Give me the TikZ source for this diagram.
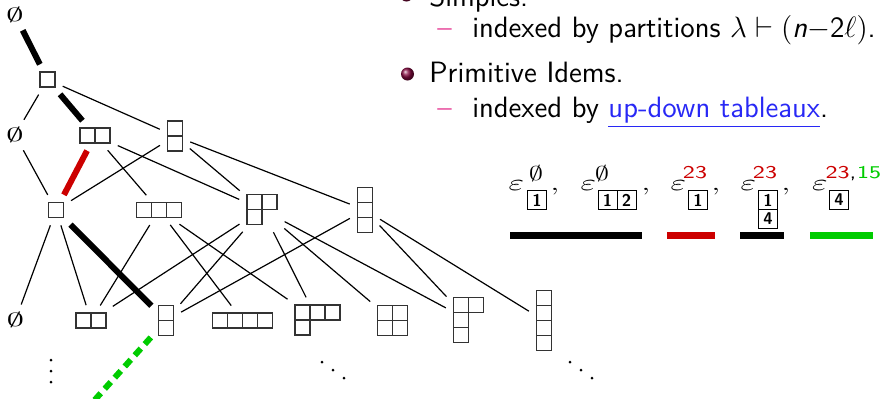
\RequirePackage{fix-cm}
\documentclass[tikz,border=0pt]{standalone}
\usepackage{amssymb}
\usetikzlibrary{calc}

\definecolor{edgered}{RGB}{204,0,0}
\definecolor{edgegreen}{RGB}{0,204,0}
\definecolor{ballred}{RGB}{135,10,65}
\definecolor{dashpink}{RGB}{235,100,170}
\definecolor{linkblue}{RGB}{40,40,245}

% Young diagram: name, centre, columns, rows, row lengths from the top
\newcommand{\young}[5]{%
  \node[ydiag, minimum width=#3*7.5pt, minimum height=#4*7.5pt] (#1) at (#2) {};
  \foreach \ylen [count=\yrow] in {#5}
    \foreach \ycol in {1,...,\ylen}
      \draw[cell] ($(#1.center)+({(\ycol-1-#3/2)*15},{(\yrow-1-#4/2)*15})$) rectangle +(15,15);
}

\begin{document}
\begin{tikzpicture}[x=0.5pt, y=-0.5pt,
    ydiag/.style={rectangle, inner sep=0pt, outer sep=2.5pt},
    cell/.style={draw=black!80, line width=0.65pt},
    nullset/.style={inner sep=0.5pt, outer sep=2pt, xscale=1.8, font=\fontsize{9.5}{10}\selectfont},
    link/.style={line width=0.6pt, shorten <=1.5pt, shorten >=1.5pt},
    thickpath/.style={link, line width=3pt},
    redpath/.style={thickpath, edgered},
    greenpath/.style={line width=3pt, edgegreen, dash pattern=on 4.5pt off 3pt, shorten <=2pt},
    item/.style={anchor=base west, inner sep=0pt, font=\fontsize{14.7}{17}\selectfont\sffamily},
    bullet/.style={circle, inner sep=0pt, minimum size=6.5pt, shade, ball color=ballred},
    subdash/.style={item, text=dashpink},
    eps/.style={anchor=base, xscale=1.45, font=\fontsize{11.5}{12}\selectfont},
    sup/.style={inner sep=0pt, xscale=1.3, font=\fontsize{9}{9}\selectfont\sffamily},
    tcell/.style={draw, minimum size=9.5pt, inner sep=0pt, font=\fontsize{8.5}{9}\selectfont\sffamily\bfseries},
    sepbar/.style={line width=3.5pt}
  ]
  \useasboundingbox (0,0) rectangle (880,398);

  \node[nullset] (l0-0) at (15,15) {$\emptyset$};
  \young{l1-1}{47.5,79.5}{1}{1}{1}
  \node[nullset] (l2-0) at (15,135) {$\emptyset$};
  \young{l2-2}{95,135.5}{2}{1}{2}
  \young{l2-11}{175,136}{1}{2}{1,1}
  \young{l3-1}{56,210}{1}{1}{1}
  \young{l3-3}{159,210}{3}{1}{3}
  \young{l3-21}{262,209.5}{2}{2}{2,1}
  \young{l3-111}{365,210}{1}{3}{1,1,1}
  \node[nullset] (l4-0) at (15.5,320) {$\emptyset$};
  \young{l4-2}{91,320.5}{2}{1}{2}
  \young{l4-11}{166,320.5}{1}{2}{1,1}
  \young{l4-4}{242.5,320.5}{4}{1}{4}
  \young{l4-31}{317.5,320}{3}{2}{3,1}
  \young{l4-22}{392.5,320.5}{2}{2}{2,2}
  \young{l4-211}{468.5,320}{2}{3}{2,1,1}
  \young{l4-1111}{544,320.5}{1}{4}{1,1,1,1}

  \draw[thickpath] (l0-0) -- (l1-1);
  \draw[link] (l1-1) -- (l2-0);
  \draw[thickpath] (l1-1) -- (l2-2);
  \draw[link] (l1-1) -- (l2-11);

  \draw[link] (l2-0) -- (l3-1);
  \draw[redpath] (l2-2) -- (l3-1);
  \draw[link] (l2-11) -- (l3-1);
  \draw[link] (l2-2) -- (l3-3);
  \draw[link] (l2-2) -- (l3-21);
  \draw[link] (l2-11) -- (l3-21);
  \draw[link] (l2-11) -- (l3-111);

  \draw[link] (l3-1) -- (l4-0);
  \draw[link] (l3-1) -- (l4-2);
  \draw[thickpath] (l3-1) -- (l4-11);
  \draw[link] (l3-3) -- (l4-2);
  \draw[link] (l3-3) -- (l4-4);
  \draw[link] (l3-3) -- (l4-31);
  \draw[link] (l3-21) -- (l4-2);
  \draw[link] (l3-21) -- (l4-11);
  \draw[link] (l3-21) -- (l4-31);
  \draw[link] (l3-21) -- (l4-22);
  \draw[link] (l3-21) -- (l4-211);
  \draw[link] (l3-111) -- (l4-11);
  \draw[link] (l3-111) -- (l4-211);
  \draw[link] (l3-111) -- (l4-1111);

  \coordinate (tail) at (92,403);
  \draw[greenpath] (l4-11) -- (tail);

  \foreach \y in {360,371,382}
    \fill (51,\y) circle (0.75pt);
  \foreach \k in {0,1,2} {
    \fill (322+11*\k,362+8*\k) circle (0.75pt);
    \fill (570+11*\k,362+8*\k) circle (0.75pt);
  }

  \node[bullet] (b1) at (406.5,-5) {};
  \node[item] (simples) at (429,6) {Simples.};
  \node[subdash] (d1) at (437,37) {\textendash};
  \node[item] (simples-sub) at (472,37) {indexed by partitions $\lambda\vdash(\mbox{\itshape n}{-}\mbox{2}\ell)$.};
  \node[bullet] (b2) at (407.5,74) {};
  \node[item] (idems) at (429,82) {Primitive Idems.};
  \node[subdash] (d2) at (437,117) {\textendash};
  \node[item] (idems-sub) at (472,117) {indexed by \textcolor{linkblue}{\underline{up-down tableaux}}.};

  \node[eps] (eps1) at (516.5,190) {$\varepsilon$};
  \node[sup, xscale=1.1] (sup1) at (536,173.5) {\fontsize{10}{10}\selectfont$\emptyset$};
  \node[tcell] (t1) at (537,200) {1};
  \node[eps] (com1) at (555,190) {,};

  \node[eps] (eps2) at (588.5,190) {$\varepsilon$};
  \node[sup, xscale=1.1] (sup2) at (602,173.5) {\fontsize{10}{10}\selectfont$\emptyset$};
  \node[tcell] (t2a) at (607.5,200) {1};
  \node[tcell] (t2b) at (626.5,200) {2};
  \node[eps] (com2) at (646,190) {,};

  \node[eps] (eps3) at (678.5,190) {$\varepsilon$};
  \node[sup, anchor=base, text=edgered] (sup3) at (695,178) {23};
  \node[tcell] (t3) at (698,200) {1};
  \node[eps] (com3) at (716,190) {,};

  \node[eps] (eps4) at (748.5,190) {$\varepsilon$};
  \node[sup, anchor=base, text=edgered] (sup4) at (765,178) {23};
  \node[tcell] (t4a) at (768,200) {1};
  \node[tcell] (t4b) at (768,219) {4};
  \node[eps] (com4) at (786,190) {,};

  \node[eps] (eps5) at (820,190) {$\varepsilon$};
  \node[sup, anchor=base west] (sup5) at (825,178) {\textcolor{edgered}{23},\kern0.3pt\textcolor{edgegreen}{15}};
  \node[tcell] (t5) at (839,200) {4};

  \draw[sepbar] (510,235.5) -- (642,235.5);
  \draw[sepbar, edgered] (667,235.5) -- (715,235.5);
  \draw[sepbar] (740,235.5) -- (784,235.5);
  \draw[sepbar, edgegreen] (810,235.5) -- (873,235.5);
\end{tikzpicture}
\end{document}
